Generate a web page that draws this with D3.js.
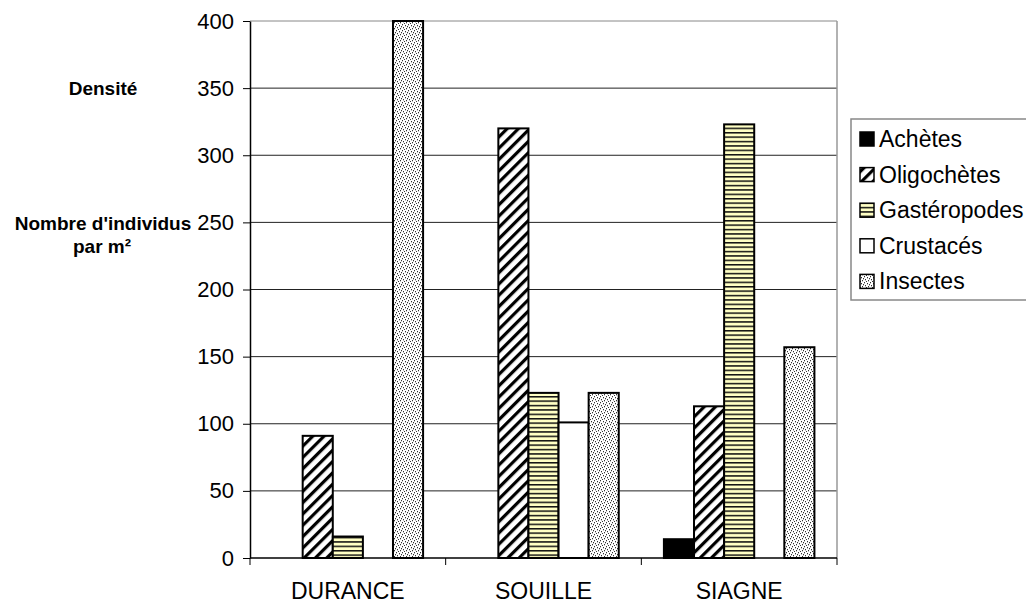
<!DOCTYPE html>
<html>
<head>
<meta charset="utf-8">
<script src="https://cdn.jsdelivr.net/npm/d3@7"></script>
<style>
  html, body { margin: 0; padding: 0; background: #fff; }
  svg { display: block; font-family: "Liberation Sans", Arial, sans-serif; }
</style>
</head>
<body>
<svg id="chart" width="1026" height="603"></svg>
<script>
// Rivers (categories) and invertebrate groups (series)
const rivers = ["DURANCE", "SOUILLE", "SIAGNE"];
const groups = ["Achètes", "Oligochètes", "Gastéropodes", "Crustacés", "Insectes"];

// Density, individuals per m², one array per group (in river order)
const achetes      = [0, 0, 14];
const oligochetes  = [91, 320, 113];
const gasteropodes = [16, 123, 323];
const crustaces    = [0, 101, 0];
const insectes     = [400, 123, 157];

const yTicks = [0, 50, 100, 150, 200, 250, 300, 350, 400];

const seriesValues = [achetes, oligochetes, gasteropodes, crustaces, insectes];

const svg = d3.select("#chart");
const margin = { left: 250, top: 21, right: 837, bottom: 558 };

// Fill patterns for each group
const defs = svg.append("defs");

// Oligochètes: bold diagonal hatching
const pOligo = defs.append("pattern").attr("id", "p-oligo")
  .attr("patternUnits", "userSpaceOnUse").attr("width", 8).attr("height", 8)
  .attr("patternTransform", "rotate(45)");
pOligo.append("rect").attr("width", 8).attr("height", 8).attr("fill", "#fff");
pOligo.append("rect").attr("x", 0).attr("y", 0).attr("width", 3.2).attr("height", 8).attr("fill", "#000");

// Gastéropodes: horizontal black lines on pale yellow
const pGast = defs.append("pattern").attr("id", "p-gast")
  .attr("patternUnits", "userSpaceOnUse").attr("width", 4).attr("height", 4.4);
pGast.append("rect").attr("width", 4).attr("height", 4.4).attr("fill", "#ffffc4");
pGast.append("rect").attr("y", 0).attr("width", 4).attr("height", 1.5).attr("fill", "#111");

// Insectes: fine speckle
const pIns = defs.append("pattern").attr("id", "p-ins")
  .attr("patternUnits", "userSpaceOnUse").attr("width", 6).attr("height", 6);
pIns.append("rect").attr("width", 6).attr("height", 6).attr("fill", "#fff");
[[0,0],[3,1],[1,3],[4,4],[2,5],[5,2]].forEach(([x, y]) => {
  pIns.append("rect").attr("x", x).attr("y", y).attr("width", 1).attr("height", 1.3).attr("fill", "#333");
});

const fills = ["#000", "url(#p-oligo)", "url(#p-gast)", "#fff", "url(#p-ins)"];

// Scales
const x0 = d3.scaleBand().domain(rivers).range([margin.left, margin.right]).paddingInner(0).paddingOuter(0);
// 150% gap: bars occupy 5 of 6.5 units in each band
const x1 = d3.scaleBand().domain(groups)
  .range([x0.bandwidth() * 0.75 / 6.5, x0.bandwidth() * (0.75 + 5) / 6.5])
  .paddingInner(0).paddingOuter(0);
const y = d3.scaleLinear().domain([0, 400]).range([margin.bottom, margin.top]);

// Gridlines
svg.append("g").selectAll("line").data(yTicks.filter(t => t > 0)).join("line")
  .attr("x1", margin.left).attr("x2", margin.right)
  .attr("y1", d => y(d)).attr("y2", d => y(d))
  .attr("stroke", d => d === 400 ? "#888" : "#222").attr("stroke-width", 1);

// Plot frame right side
svg.append("line").attr("x1", margin.right).attr("x2", margin.right)
  .attr("y1", margin.top).attr("y2", margin.bottom).attr("stroke", "#999").attr("stroke-width", 1.5);

// Bars
const barG = svg.append("g");
rivers.forEach((r, i) => {
  groups.forEach((g, j) => {
    const v = seriesValues[j][i];
    if (v <= 0) return;
    barG.append("rect")
      .attr("x", x0(r) + x1(g))
      .attr("y", y(v))
      .attr("width", x1.bandwidth())
      .attr("height", y(0) - y(v))
      .attr("fill", fills[j])
      .attr("stroke", "#000").attr("stroke-width", 2);
  });
});

// Y axis
const yAxis = d3.axisLeft(y).tickValues(yTicks).tickSize(7).tickPadding(9).tickSizeOuter(0);
const gy = svg.append("g").attr("transform", `translate(${margin.left},0)`).call(yAxis);
gy.select(".domain").attr("stroke", "#000").attr("stroke-width", 1.5);
gy.selectAll(".tick line").attr("stroke", "#000");
gy.selectAll(".tick text").attr("font-size", 22).attr("fill", "#000")
  .attr("font-family", "'Liberation Sans', Arial, sans-serif");

// X axis baseline and category dividers
svg.append("line").attr("x1", margin.left).attr("x2", margin.right)
  .attr("y1", y(0)).attr("y2", y(0)).attr("stroke", "#000").attr("stroke-width", 1.5);
const dividers = rivers.map(r => x0(r)).concat([margin.right]);
svg.append("g").selectAll("line").data(dividers).join("line")
  .attr("x1", d => d).attr("x2", d => d)
  .attr("y1", y(0)).attr("y2", y(0) + 7).attr("stroke", "#000");
svg.append("g").selectAll("text").data(rivers).join("text")
  .attr("x", d => x0(d) + x0.bandwidth() / 2)
  .attr("y", 599)
  .attr("text-anchor", "middle").attr("font-size", 23).attr("fill", "#000")
  .text(d => d);

// Axis titles
const titles = svg.append("g").attr("font-weight", "bold").attr("font-size", 19).attr("text-anchor", "middle");
titles.append("text").attr("x", 103).attr("y", 95).text("Densité");
titles.append("text").attr("x", 103).attr("y", 230).text("Nombre d'individus");
titles.append("text").attr("x", 102).attr("y", 253).text("par m²");

// Legend
const leg = svg.append("g");
leg.append("rect").attr("x", 851).attr("y", 119).attr("width", 190).attr("height", 181)
  .attr("fill", "#fff").attr("stroke", "#888").attr("stroke-width", 1.5);
groups.forEach((g, j) => {
  const cy = 139 + j * 35.6;
  leg.append("rect").attr("x", 860).attr("y", cy - 7).attr("width", 14).attr("height", 14)
    .attr("fill", fills[j]).attr("stroke", "#000").attr("stroke-width", 1.5);
  leg.append("text").attr("x", 879).attr("y", cy + 8)
    .attr("font-size", 23).attr("fill", "#000").text(g);
});
</script>
</body>
</html>
